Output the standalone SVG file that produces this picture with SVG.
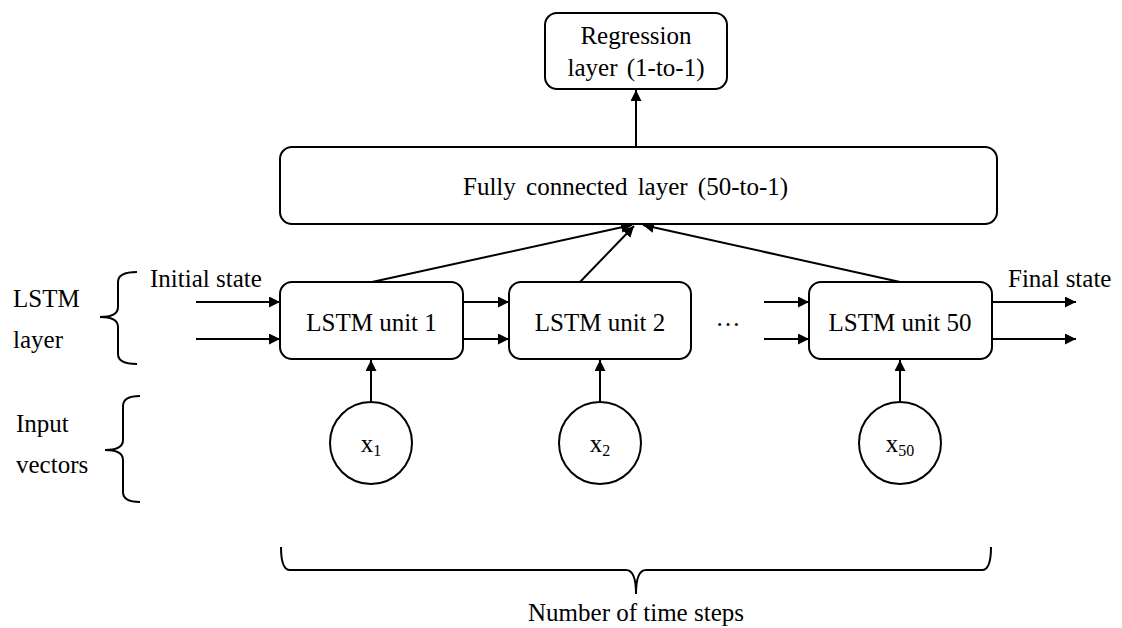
<svg xmlns="http://www.w3.org/2000/svg" width="1122" height="628" viewBox="0 0 1122 628">
  <style>
    text { font-family: "Liberation Serif", "Times New Roman", serif; font-size: 25px; fill: #000; }
    .c { text-anchor: middle; }
    .box { fill: #fff; stroke: #000; stroke-width: 2; }
    .line { fill: none; stroke: #000; stroke-width: 2; }
    .brace { fill: none; stroke: #000; stroke-width: 2; }
  </style>
  <defs>
    <marker id="arrow" viewBox="0 0 10 10" refX="10" refY="5" markerWidth="5.5" markerHeight="5.5" orient="auto" markerUnits="strokeWidth">
      <path d="M0,0 L10,5 L0,10 z" fill="#000"/>
    </marker>
  </defs>

  <rect width="1122" height="628" fill="#fff"/>

  <!-- connectors -->
  <g id="connectors" class="line" marker-end="url(#arrow)">
    <line x1="636" y1="147" x2="636" y2="90"/>
    <line x1="372" y1="282" x2="632" y2="225"/>
    <line x1="580" y1="282" x2="634" y2="226"/>
    <line x1="900" y1="282" x2="643" y2="225"/>
    <line x1="196" y1="302" x2="280" y2="302"/>
    <line x1="196" y1="339" x2="280" y2="339"/>
    <line x1="463" y1="302" x2="509" y2="302"/>
    <line x1="463" y1="339" x2="509" y2="339"/>
    <line x1="764" y1="302" x2="809" y2="302"/>
    <line x1="764" y1="339" x2="809" y2="339"/>
    <line x1="992" y1="302" x2="1076" y2="302"/>
    <line x1="992" y1="339" x2="1076" y2="339"/>
    <line x1="371" y1="402" x2="371" y2="360"/>
    <line x1="600" y1="402" x2="600" y2="360"/>
    <line x1="900" y1="402" x2="900" y2="360"/>
  </g>

  <g id="regression">
    <rect class="box" x="545" y="13" width="182" height="76" rx="12"/>
    <text class="c" x="636" y="44">Regression</text>
    <text class="c" x="636" y="76" word-spacing="3">layer (1-to-1)</text>
  </g>

  <g id="fully-connected">
    <rect class="box" x="280" y="147" width="717" height="77" rx="12"/>
    <text x="463" y="195" word-spacing="4">Fully connected layer (50-to-1)</text>
  </g>

  <g id="lstm-unit-1">
    <rect class="box" x="280" y="282" width="183" height="77" rx="12"/>
    <text class="c" x="371.5" y="331">LSTM unit 1</text>
  </g>
  <g id="lstm-unit-2">
    <rect class="box" x="509" y="282" width="182" height="77" rx="12"/>
    <text class="c" x="600" y="331">LSTM unit 2</text>
  </g>
  <g id="ellipsis">
    <text class="c" x="728" y="326" font-size="27">…</text>
  </g>
  <g id="lstm-unit-50">
    <rect class="box" x="809" y="282" width="183" height="77" rx="12"/>
    <text class="c" x="900" y="331">LSTM unit 50</text>
  </g>

  <g id="input-x1">
    <circle class="box" cx="371" cy="443" r="41"/>
    <text class="c" x="371" y="452">x<tspan font-size="16" dy="4">1</tspan></text>
  </g>
  <g id="input-x2">
    <circle class="box" cx="600" cy="443" r="41"/>
    <text class="c" x="600" y="452">x<tspan font-size="16" dy="4">2</tspan></text>
  </g>
  <g id="input-x50">
    <circle class="box" cx="900" cy="443" r="41"/>
    <text class="c" x="900" y="452">x<tspan font-size="16" dy="4">50</tspan></text>
  </g>

  <g id="state-labels">
    <text x="150" y="287">Initial state</text>
    <text x="1008" y="287">Final state</text>
  </g>

  <g id="lstm-layer-label">
    <text x="13" y="307">LSTM</text>
    <text x="13" y="348">layer</text>
    <path class="brace" d="M137,272 Q118,272 118,282 L118,307 Q118,317 100,317 Q118,317 118,327 L118,354 Q118,364 137,364"/>
  </g>

  <g id="input-vectors-label">
    <text x="16" y="432">Input</text>
    <text x="16" y="473">vectors</text>
    <path class="brace" d="M140,396 Q123,396 123,406 L123,440 Q123,450 105,450 Q123,450 123,460 L123,492 Q123,502 140,502"/>
  </g>

  <g id="time-steps-label">
    <path class="brace" d="M281,547 Q281,570 290,570 L626,570 Q636,570 636,594 Q636,570 646,570 L982,570 Q991,570 991,547"/>
    <text class="c" x="636" y="621">Number of time steps</text>
  </g>
</svg>
